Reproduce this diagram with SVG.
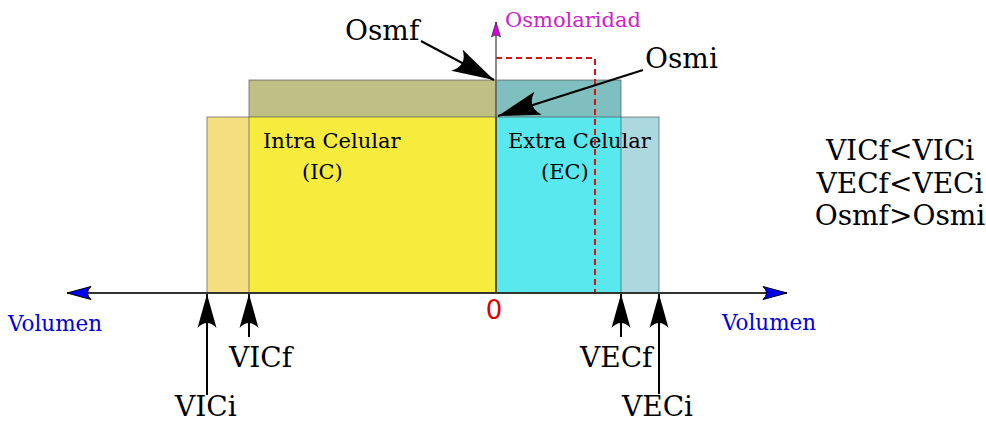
<svg xmlns="http://www.w3.org/2000/svg" width="986" height="422" viewBox="0 0 986 422">
<defs>
<style>
text{font-family:"DejaVu Serif","Liberation Serif",serif;fill:#000}
.big{font-size:28px}
.mid{font-size:21px}
.vol{font-size:21.5px;fill:#0000dd}
.ptr{stroke:#000;stroke-width:2;fill:none}
.outline{fill:none;stroke:#444;stroke-opacity:0.6;stroke-width:1}
</style>
<marker id="head" markerUnits="userSpaceOnUse" markerWidth="40" markerHeight="24" viewBox="-36 -12 40 24" refX="0" refY="0" orient="auto">
<path d="M0,0 L-34,-9.5 Q-24,0 -34,9.5 Z" fill="#000"/>
</marker>
<marker id="headL" markerUnits="userSpaceOnUse" markerWidth="50" markerHeight="30" viewBox="-46 -15 50 30" refX="0" refY="0" orient="auto">
<path d="M0,0 L-42,-12 Q-30,0 -42,12 Z" fill="#000"/>
</marker>
<marker id="axh" markerUnits="userSpaceOnUse" markerWidth="30" markerHeight="18" viewBox="-28 -9 30 18" refX="0" refY="0" orient="auto">
<path d="M0,0 L-24,-6.5 Q-17,0 -24,6.5 Z" fill="#0000ee" stroke="#000" stroke-width="1"/>
</marker>
<marker id="vh" markerUnits="userSpaceOnUse" markerWidth="20" markerHeight="14" viewBox="-18 -7 20 14" refX="0" refY="0" orient="auto">
<path d="M0,0 L-15,-4.5 Q-11,0 -15,4.5 Z" fill="#dd00dd" stroke="#333" stroke-width="0.8"/>
</marker>
</defs>
<g id="ic">
<rect x="207" y="117" width="42" height="176" fill="#f4de80"/>
<rect x="249" y="117" width="247" height="176" fill="#f7eb3e"/>
<rect x="249" y="80" width="247" height="37" fill="#bfbf86"/>
<rect class="outline" x="207" y="117" width="289" height="176"/>
<rect class="outline" x="249" y="80" width="247" height="213"/>
<text class="mid" x="263" y="148">Intra Celular</text>
<text class="mid" x="302" y="179">(IC)</text>
</g>
<g id="ec">
<rect x="496" y="117" width="125" height="176" fill="#58e8ee"/>
<rect x="621" y="117" width="38" height="176" fill="#acd8e0"/>
<rect x="496" y="80" width="125" height="37" fill="#80bfbf"/>
<rect class="outline" x="496" y="117" width="163" height="176"/>
<rect class="outline" x="496" y="80" width="125" height="213"/>
<text class="mid" x="508" y="148">Extra Celular</text>
<text class="mid" x="541" y="179">(EC)</text>
</g>
<g id="connectors">
<line x1="496" y1="117" x2="496" y2="293" stroke="#000" stroke-width="1.5"/>
<path d="M496,58 H595 V293" fill="none" stroke="#dd1111" stroke-width="2" stroke-dasharray="6,4"/>
<line x1="496" y1="293" x2="496" y2="22" stroke="#666" stroke-width="1.5" marker-end="url(#vh)"/>
<line x1="496" y1="293" x2="67" y2="293" stroke="#333" stroke-width="2" marker-end="url(#axh)"/>
<line x1="496" y1="293" x2="787" y2="293" stroke="#333" stroke-width="2" marker-end="url(#axh)"/>
<line class="ptr" x1="207" y1="395" x2="207" y2="294" marker-end="url(#head)"/>
<line class="ptr" x1="249" y1="337" x2="249" y2="294" marker-end="url(#head)"/>
<line class="ptr" x1="621" y1="337" x2="621" y2="294" marker-end="url(#head)"/>
<line class="ptr" x1="659" y1="394" x2="659" y2="294" marker-end="url(#head)"/>
<line class="ptr" x1="421" y1="41" x2="494" y2="80" marker-end="url(#headL)"/>
<line class="ptr" x1="643" y1="70" x2="498" y2="116" marker-end="url(#headL)"/>
</g>
<g id="labels">
<text x="505" y="27" style="font-size:21px;fill:#cc22cc">Osmolaridad</text>
<text class="big" x="345" y="40">Osmf</text>
<text class="big" x="645" y="68">Osmi</text>
<text x="494" y="319" text-anchor="middle" style="font-family:'DejaVu Sans',sans-serif;font-size:26px;fill:#dd0000">0</text>
<text class="vol" x="8" y="331">Volumen</text>
<text class="vol" x="722" y="330">Volumen</text>
<text class="big" x="175" y="416">VICi</text>
<text class="big" x="229" y="367">VICf</text>
<text class="big" x="580" y="367">VECf</text>
<text class="big" x="622" y="416">VECi</text>
<text class="big" x="900" y="160" text-anchor="middle">VICf&lt;VICi</text>
<text class="big" x="900" y="193" text-anchor="middle">VECf&lt;VECi</text>
<text class="big" x="900" y="225" text-anchor="middle">Osmf&gt;Osmi</text>
</g>
</svg>
